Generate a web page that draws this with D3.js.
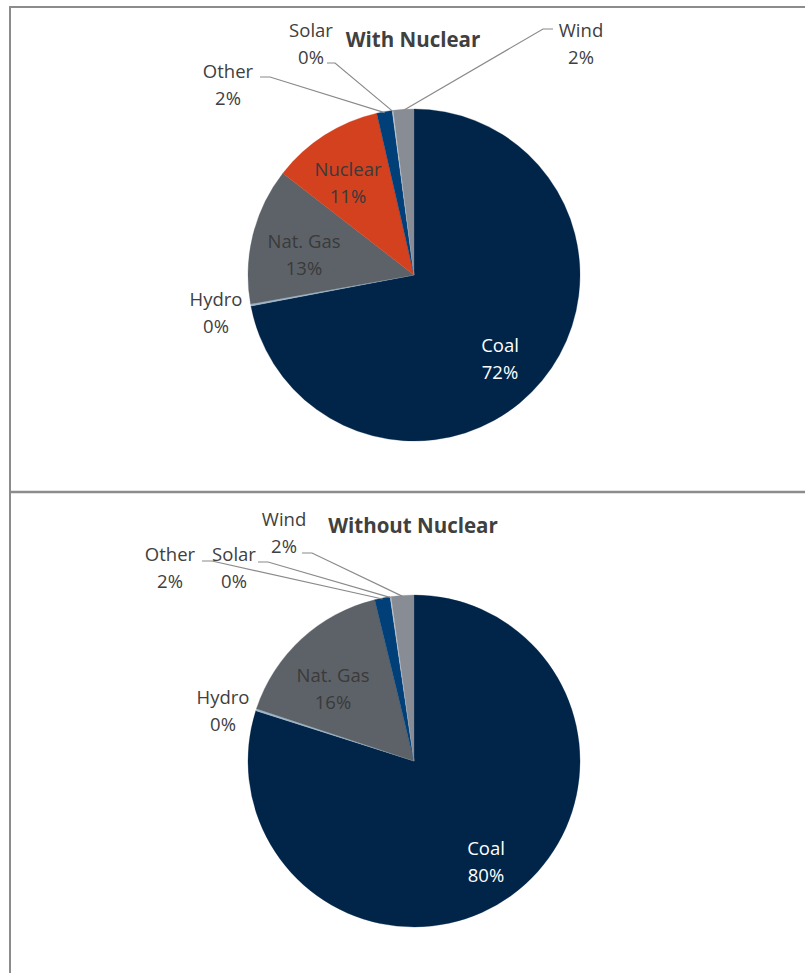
<!DOCTYPE html>
<html>
<head>
<meta charset="utf-8">
<script src="https://cdn.jsdelivr.net/npm/d3@7/dist/d3.min.js"></script>
<style>
  html, body { margin: 0; padding: 0; background: #fff; }
  svg { display: block; }
</style>
</head>
<body>
<svg id="chart" width="805" height="973"></svg>
<script>
// ---- data ----
const categories = ["Coal", "Hydro", "Nat. Gas", "Nuclear", "Other", "Solar", "Wind"];
const withNuclearValues    = [72.0, 0.2, 13.3, 10.9, 1.5, 0.1, 2.0];
const withoutNuclearValues = [79.9, 0.2, 16.1, 0.0, 1.5, 0.1, 2.2];
const chartTitles = ["With Nuclear", "Without Nuclear"];
const sliceColors = ["#012549", "#9fb6c9", "#5d6268", "#d3411f", "#003f78", "#c9ccd1", "#878c95"];

// ---- layout (label placement relative to pie centre) ----
const layouts = [
  {
    cy: 275,
    titleY: 47,
    labels: {
      "Coal":     {x: 86,   y: 77,   color: "#ffffff"},
      "Hydro":    {x: -198, y: 31,   color: "#404040"},
      "Nat. Gas": {x: -110, y: -27,  color: "#3a3a3a"},
      "Nuclear":  {x: -66,  y: -99,  color: "#3a3a3a"},
      "Other":    {x: -186, y: -197, color: "#404040", leader: [[-154, -198], [-144, -198]]},
      "Solar":    {x: -103, y: -238, color: "#404040", leader: [[-87, -212], [-79, -212]]},
      "Wind":     {x: 167,  y: -238, color: "#404040", leader: [[139, -246], [129, -246]]}
    }
  },
  {
    cy: 761,
    titleY: 533,
    labels: {
      "Coal":     {x: 72,   y: 94,   color: "#ffffff"},
      "Hydro":    {x: -191, y: -57,  color: "#404040"},
      "Nat. Gas": {x: -81,  y: -79,  color: "#3a3a3a"},
      "Other":    {x: -244, y: -200, color: "#404040", leader: [[-212, -200], [-202, -200]]},
      "Solar":    {x: -180, y: -200, color: "#404040", leader: [[-156, -199], [-146, -199]]},
      "Wind":     {x: -130, y: -235, color: "#404040", leader: [[-112, -208], [-102, -208]]}
    }
  }
];

const svg = d3.select("#chart");
const W = 805, H = 973;
const cx = 414, R = 166;
const font = "'Open Sans', sans-serif";

// frame
const frameColor = "#8c8c8c";
svg.append("line").attr("x1", 9).attr("x2", W).attr("y1", 7).attr("y2", 7)
  .attr("stroke", frameColor).attr("stroke-width", 2);
svg.append("line").attr("x1", 10).attr("x2", 10).attr("y1", 6).attr("y2", H)
  .attr("stroke", frameColor).attr("stroke-width", 2);
svg.append("line").attr("x1", 9).attr("x2", W).attr("y1", 492).attr("y2", 492)
  .attr("stroke", frameColor).attr("stroke-width", 2.5);

const color = d3.scaleOrdinal().domain(categories).range(sliceColors);
const pie = d3.pie().sort(null).value(d => d.value);
const arc = d3.arc().innerRadius(0).outerRadius(R);
const edgeArc = d3.arc().innerRadius(R - 1).outerRadius(R - 1);

[withNuclearValues, withoutNuclearValues].forEach((vals, i) => {
  const L = layouts[i];
  const data = categories.map((c, j) => ({cat: c, value: vals[j]})).filter(d => d.value > 0);
  const g = svg.append("g").attr("transform", `translate(${cx},${L.cy})`);
  const arcs = pie(data);

  g.selectAll("path.slice").data(arcs).enter().append("path")
    .attr("class", "slice")
    .attr("d", arc)
    .attr("fill", d => color(d.data.cat))
    .attr("stroke", d => color(d.data.cat))
    .attr("stroke-width", 0.3);

  // leader lines
  arcs.forEach(a => {
    const lab = L.labels[a.data.cat];
    if (!lab || !lab.leader) return;
    const end = edgeArc.centroid(a);
    const pts = lab.leader.concat([end]);
    g.append("path")
      .attr("d", d3.line()(pts))
      .attr("fill", "none")
      .attr("stroke", "#8a8a8a")
      .attr("stroke-width", 1.2);
  });

  // labels
  arcs.forEach(a => {
    const lab = L.labels[a.data.cat];
    if (!lab) return;
    const t = g.append("text")
      .attr("text-anchor", "middle")
      .attr("font-family", font)
      .attr("font-size", 18.5)
      .attr("fill", lab.color);
    t.append("tspan").attr("x", lab.x).attr("y", lab.y).text(a.data.cat);
    t.append("tspan").attr("x", lab.x).attr("y", lab.y + 27).text(Math.round(a.data.value) + "%");
  });

  // title
  svg.append("text")
    .attr("x", 413).attr("y", L.titleY)
    .attr("text-anchor", "middle")
    .attr("font-family", font)
    .attr("font-weight", "bold")
    .attr("font-size", 20.5)
    .attr("fill", "#404040")
    .text(chartTitles[i]);
});
</script>
</body>
</html>
